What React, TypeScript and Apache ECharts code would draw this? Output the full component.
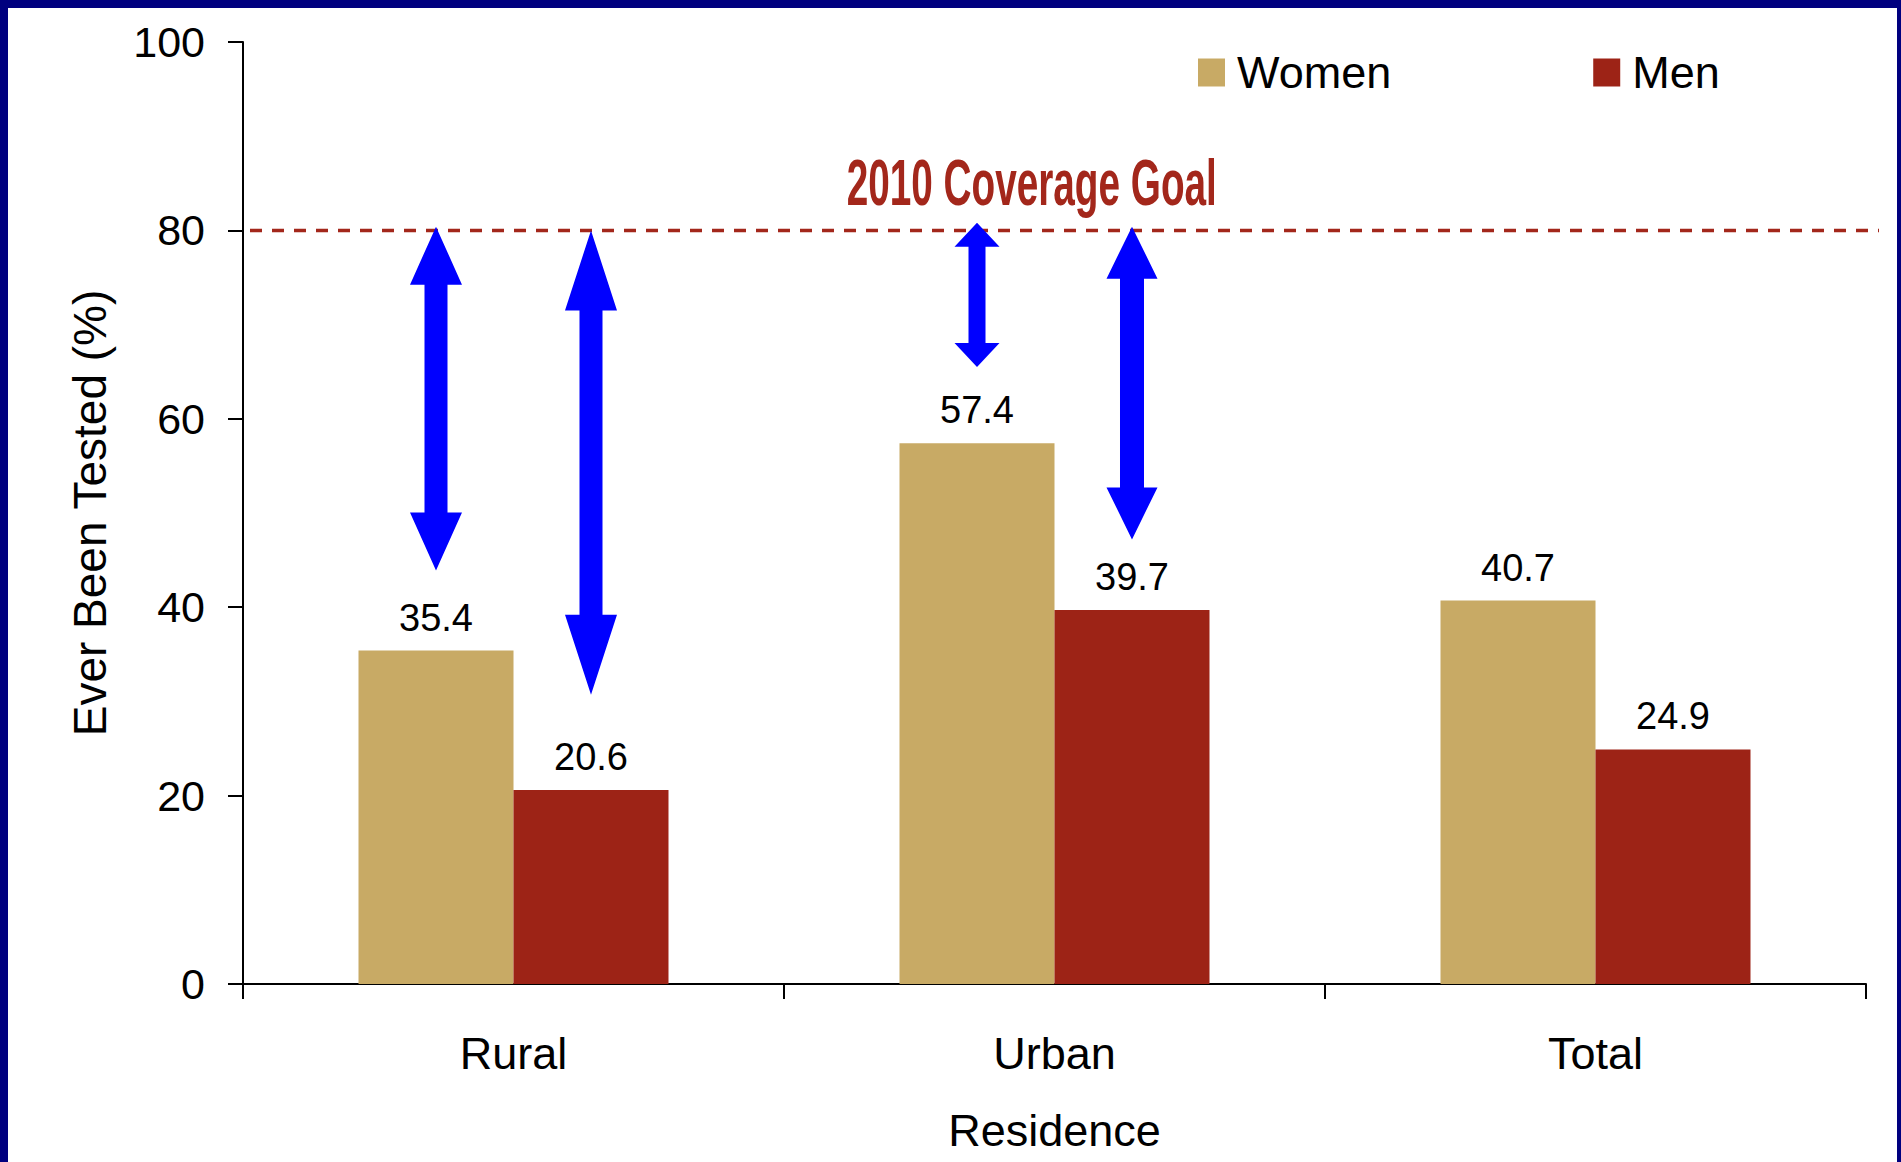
import React, { useEffect, useRef } from "react";
import * as echarts from "echarts";

// Residence groups and the share of people who have ever been tested (%)
const categories = ["Rural", "Urban", "Total"];
const womenValues = [35.4, 57.4, 40.7];
const menValues = [20.6, 39.7, 24.9];
const yTicks = { min: 0, max: 100, interval: 20 };
const goalValue = 80;
const goalLabel = "2010 Coverage Goal";

// Gap arrows: [category index, side (0 = women, 1 = men), upper tip, lower tip]
const gapArrows = [
  [0, 0, 80.4, 43.9],
  [0, 1, 80.0, 30.7],
  [1, 0, 80.8, 65.5],
  [1, 1, 80.4, 47.2],
];

// Arrow drawing sizes in pixels: head length, head width, shaft width
const arrowShapes = [
  { head: 58, headW: 52, shaft: 23 },
  { head: 80, headW: 52, shaft: 23 },
  { head: 24, headW: 45, shaft: 17 },
  { head: 52, headW: 51, shaft: 24 },
];

const WOMEN_COLOR = "#C8AA65";
const MEN_COLOR = "#9D2316";
const GOAL_COLOR = "#A3271B";
const ARROW_COLOR = "#0000FF";
const FRAME_COLOR = "#00007F";
const FONT = "'Liberation Sans', Arial, sans-serif";
const CATEGORY_GAP = 0.427;

export default function App() {
  const ref = useRef<HTMLDivElement>(null);

  useEffect(() => {
    document.body.style.margin = "0";
    if (!ref.current) return;
    const chart = echarts.init(ref.current, undefined, { renderer: "svg" });

    const barLabel = {
      show: true,
      position: "top",
      distance: 14,
      color: "#000",
      fontSize: 38,
      fontFamily: FONT,
    };

    const option = {
      animation: false,
      backgroundColor: "#fff",
      textStyle: { fontFamily: FONT },
      grid: { left: 243, right: 35, top: 42, bottom: 178, containLabel: false },
      legend: {
        data: ["Women", "Men"],
        left: 1198,
        top: 50,
        padding: 0,
        icon: "rect",
        itemWidth: 27,
        itemHeight: 28,
        itemGap: 202,
        textStyle: { fontSize: 45, color: "#000", fontFamily: FONT, padding: [0, 0, 0, 7] },
      },
      xAxis: {
        type: "category",
        data: categories,
        name: "Residence",
        nameLocation: "middle",
        nameGap: 124,
        nameTextStyle: { fontSize: 45, color: "#000", fontFamily: FONT },
        axisLine: { lineStyle: { color: "#000", width: 2 } },
        axisTick: { show: true, length: 15, lineStyle: { color: "#000", width: 2 } },
        axisLabel: { fontSize: 45, color: "#000", margin: 47, fontFamily: FONT },
      },
      yAxis: {
        type: "value",
        min: yTicks.min,
        max: yTicks.max,
        interval: yTicks.interval,
        name: "Ever Been Tested (%)",
        nameLocation: "middle",
        nameRotate: 90,
        nameGap: 130,
        nameTextStyle: { fontSize: 46, color: "#000", fontFamily: FONT },
        axisLine: { show: true, lineStyle: { color: "#000", width: 2 } },
        axisTick: { show: true, length: 15, lineStyle: { color: "#000", width: 2 } },
        axisLabel: {
          fontSize: 43,
          color: "#000",
          margin: 38,
          fontFamily: FONT,
          padding: [14, 0, 0, 0],
        },
        splitLine: { show: false },
      },
      series: [
        {
          name: "Women",
          type: "bar",
          data: womenValues,
          barGap: "0%",
          barCategoryGap: CATEGORY_GAP * 100 + "%",
          itemStyle: { color: WOMEN_COLOR },
          label: barLabel,
          z: 2,
        },
        {
          name: "Men",
          type: "bar",
          data: menValues,
          barGap: "0%",
          barCategoryGap: CATEGORY_GAP * 100 + "%",
          itemStyle: { color: MEN_COLOR },
          label: barLabel,
          z: 2,
        },
        {
          // dashed coverage goal with its caption
          type: "custom",
          data: [[0, goalValue]],
          silent: true,
          z: 3,
          renderItem: (params: any, api: any) => {
            const cs = params.coordSys;
            const y = api.coord([0, api.value(1)])[1];
            return {
              type: "group",
              children: [
                {
                  type: "line",
                  shape: { x1: cs.x + 7, y1: y, x2: cs.x + cs.width + 13, y2: y },
                  style: { stroke: GOAL_COLOR, lineWidth: 3.5, lineDash: [12, 10] },
                },
                {
                  type: "text",
                  x: cs.x + cs.width * 0.486,
                  y: y - 16,
                  scaleX: 0.605,
                  style: {
                    text: goalLabel,
                    x: 0,
                    y: 0,
                    align: "center",
                    verticalAlign: "bottom",
                    font: "bold 64px " + FONT,
                    fill: GOAL_COLOR,
                  },
                },
              ],
            };
          },
        },
        {
          // double-headed arrows from the goal down to each bar
          type: "custom",
          data: gapArrows,
          silent: true,
          z: 4,
          renderItem: (params: any, api: any) => {
            const cat = api.value(0);
            const side = api.value(1);
            const top = api.coord([cat, api.value(2)]);
            const bottom = api.coord([cat, api.value(3)]);
            const band = api.size([1, 0])[0];
            const barW = (band * (1 - CATEGORY_GAP)) / 2;
            const cx = top[0] + (side === 0 ? -barW / 2 : barW / 2);
            const s = arrowShapes[params.dataIndex];
            const y1 = top[1];
            const y2 = bottom[1];
            const hw = s.headW / 2;
            const sw = s.shaft / 2;
            const points = [
              [cx, y1],
              [cx + hw, y1 + s.head],
              [cx + sw, y1 + s.head],
              [cx + sw, y2 - s.head],
              [cx + hw, y2 - s.head],
              [cx, y2],
              [cx - hw, y2 - s.head],
              [cx - sw, y2 - s.head],
              [cx - sw, y1 + s.head],
              [cx - hw, y1 + s.head],
            ];
            return { type: "polygon", shape: { points }, style: { fill: ARROW_COLOR } };
          },
        },
      ],
      graphic: [
        // navy frame
        { type: "rect", left: 0, top: 0, shape: { width: 1901, height: 8 }, style: { fill: FRAME_COLOR }, z: 10 },
        { type: "rect", left: 0, top: 0, shape: { width: 8, height: 1162 }, style: { fill: FRAME_COLOR }, z: 10 },
        { type: "rect", right: 0, top: 0, shape: { width: 4, height: 1162 }, style: { fill: FRAME_COLOR }, z: 10 },
      ],
    };

    chart.setOption(option as any);
    return () => chart.dispose();
  }, []);

  return <div ref={ref} style={{ width: 1901, height: 1162 }} />;
}
